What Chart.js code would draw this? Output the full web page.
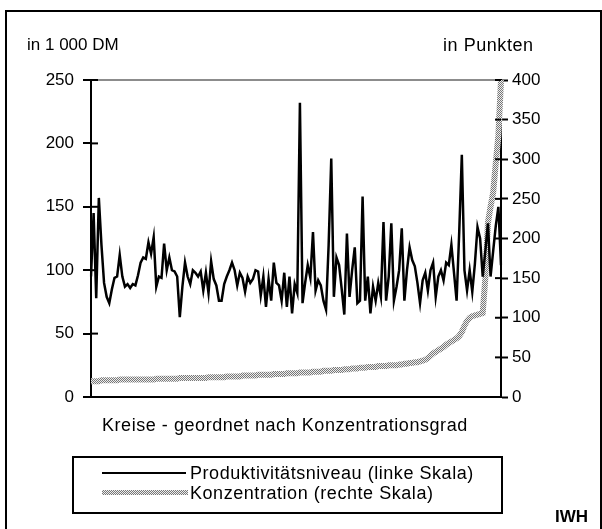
<!DOCTYPE html>
<html>
<head>
<meta charset="utf-8">
<script src="https://cdn.jsdelivr.net/npm/chart.js@4/dist/chart.umd.min.js"></script>
<style>
  html, body { margin: 0; padding: 0; background: #fff; }
  body { width: 602px; height: 529px; position: relative; overflow: hidden;
         font-family: Arial, "Liberation Sans", sans-serif; color: #000; }
  #frame { position: absolute; left: 5px; top: 10px; width: 593px; height: 540px; border: 2px solid #000; }
  #chart { position: absolute; left: 0; top: 0; }
  .lbl { position: absolute; font-size: 18px; line-height: 20px; letter-spacing: 0.55px; white-space: nowrap; }
  #legend { position: absolute; left: 72px; top: 456px; width: 427px; height: 54px; border: 2px solid #000; }
  .sample { position: absolute; left: 28px; width: 84px; }
  .solid { height: 2px; background: #000; }
  .hatch { height: 5px; background: repeating-conic-gradient(#777 0 25%, #eee 0 50%) 0 0 / 2px 2px; }
</style>
</head>
<body>
<div id="frame"></div>
<canvas id="chart" width="602" height="529"></canvas>
<div class="lbl" style="left:27px; top:35px; font-size:17px; letter-spacing:0;">in 1 000 DM</div>
<div class="lbl" style="left:443px; top:35px;">in Punkten</div>
<div class="lbl" style="left:102px; top:415px;">Kreise - geordnet nach Konzentrationsgrad</div>
<div id="legend">
  <div class="sample solid" style="top:14px;"></div>
  <div class="lbl" style="left:116px; top:5px;">Produktivitätsniveau (linke Skala)</div>
  <div class="sample hatch" style="top:32px; width:86px;"></div>
  <div class="lbl" style="left:116px; top:25px;">Konzentration (rechte Skala)</div>
</div>
<div class="lbl" style="left:555px; top:507px; font-weight:bold; font-size:17px; letter-spacing:0;">IWH</div>

<script>
// Produktivitätsniveau in 1 000 DM, Kreise geordnet nach Konzentrationsgrad
const prodValues = [
  95,145,78,157,120,90,79,74,85,94,
  95,112,95,87,89,86,89,88,96,106,
  110,109,122,113,126,87,95,94,121,100,
  110,100,99,95,63,87,106,95,89,100,
  98,95,99,84,98,82,107,93,88,76,
  76,89,
  95,100,106,100,88,98,94,83,95,90,
  93,100,99,80,95,71,93,76,106,90,
  88,76,98,71,95,66,89,82,232,
  74,90,104,94,130,84,92,88,76,69,
  120,188,79,110,104,85,65,129,79,100,
  118,74,
  76,158,76,95,66,87,76,90,79,138,
  76,95,137,76,87,100,133,76,100,118,
  108,103,90,74,92,98,84,100,106,79,
  95,100,92,106,104,120,98,76,130,191,
  100,84,100,83,105,134,125,95,115,137,
  95,115,135,150,104
]

// Konzentration in Punkten
const konzValues = [
  20,20,20,20,21,21,21,21,21,21,21,22,22,22,22,22,22,22,22,22,22,
  22,22,22,22,23,23,23,23,23,23,23,23,23,24,24,24,24,24,24,24,
  24,24,24,24,25,25,25,25,25,25,25,26,26,26,26,26,26,27,27,27,
  27,27,27,28,28,28,28,28,28,29,29,29,29,29,30,30,30,30,30,31,
  31,31,31,31,32,32,32,32,33,33,33,33,34,34,34,34,35,35,35,36,
  36,36,37,37,37,38,38,38,38,39,39,39,39,40,40,40,40,41,41,42,
  42,43,43,44,44,45,46,47,49,52,55,57,59,61,63,66,68,70,72,74,
  77,82,90,96,100,102,103,104,105,106,150,220,240,258,295,330,400
]

const kreise = prodValues.map((v, i) => String(i + 1))
const leftTicks = [0, 50, 100, 150, 200, 250]
const rightTicks = [0, 50, 100, 150, 200, 250, 300, 350, 400]

function hatchPattern(ctx) {
  const c = document.createElement('canvas')
  c.width = 2
  c.height = 2
  const p = c.getContext('2d')
  p.fillStyle = '#eeeeee'
  p.fillRect(0, 0, 2, 2)
  p.fillStyle = '#777777'
  p.fillRect(0, 0, 1, 1)
  p.fillRect(1, 1, 1, 1)
  return ctx.createPattern(c, 'repeat')
}

// tick marks that cross the axis: Chart.js draws only the outer half
const innerTicks = {
  id: 'innerTicks',
  afterDatasetsDraw(chart) {
    const {ctx, chartArea} = chart
    ctx.save()
    ctx.strokeStyle = '#000'
    ctx.lineWidth = 2
    chart.scales.y.ticks.forEach((t, i) => {
      const y = chart.scales.y.getPixelForTick(i)
      ctx.beginPath()
      ctx.moveTo(chartArea.left, y)
      ctx.lineTo(chartArea.left + 7, y)
      ctx.stroke()
    })
    chart.scales.y1.ticks.forEach((t, i) => {
      const y = chart.scales.y1.getPixelForTick(i)
      ctx.beginPath()
      ctx.moveTo(chartArea.right - 6, y)
      ctx.lineTo(chartArea.right, y)
      ctx.stroke()
    })
    ctx.restore()
  }
}

const canvas = document.getElementById('chart')
const ctx = canvas.getContext('2d')
const tickFont = {family: 'Arial, "Liberation Sans", sans-serif', size: 17}

new Chart(ctx, {
  type: 'line',
  data: {
    labels: kreise,
    datasets: [
      {
        label: 'Produktivitätsniveau (linke Skala)',
        data: prodValues,
        yAxisID: 'y',
        borderColor: '#000',
        borderWidth: 2.5,
        pointRadius: 0,
        tension: 0
      },
      {
        label: 'Konzentration (rechte Skala)',
        data: konzValues,
        yAxisID: 'y1',
        borderColor: hatchPattern(ctx),
        borderWidth: 6,
        pointRadius: 0,
        tension: 0
      }
    ]
  },
  options: {
    responsive: false,
    animation: false,
    devicePixelRatio: 1,
    layout: {padding: {left: 0, right: 0, top: 80, bottom: 132}},
    plugins: {legend: {display: false}, tooltip: {enabled: false}},
    scales: {
      x: {
        offset: false,
        ticks: {display: false},
        grid: {display: false, drawTicks: false},
        border: {display: true, color: '#000', width: 2},
        afterFit(scale) { scale.height = 0 }
      },
      y: {
        position: 'left',
        min: 0,
        max: 250,
        afterBuildTicks(scale) { scale.ticks = leftTicks.map(v => ({value: v})) },
        ticks: {color: '#000', font: tickFont, padding: 9},
        grid: {
          drawOnChartArea: true,
          color: c => (c.tick && c.tick.value === 250 ? '#8c8c8c' : 'rgba(0,0,0,0)'),
          lineWidth: 2,
          tickLength: 8,
          tickColor: '#000',
          tickWidth: 2
        },
        border: {display: true, color: '#000', width: 2},
        afterFit(scale) { scale.width = 91 }
      },
      y1: {
        position: 'right',
        min: 0,
        max: 400,
        afterBuildTicks(scale) { scale.ticks = rightTicks.map(v => ({value: v})) },
        ticks: {color: '#000', font: tickFont, padding: 4},
        grid: {drawOnChartArea: false, tickLength: 7, tickColor: '#000', tickWidth: 2},
        border: {display: true, color: '#000', width: 2},
        afterFit(scale) { scale.width = 101 }
      }
    }
  },
  plugins: [innerTicks]
})
</script>
</body>
</html>
